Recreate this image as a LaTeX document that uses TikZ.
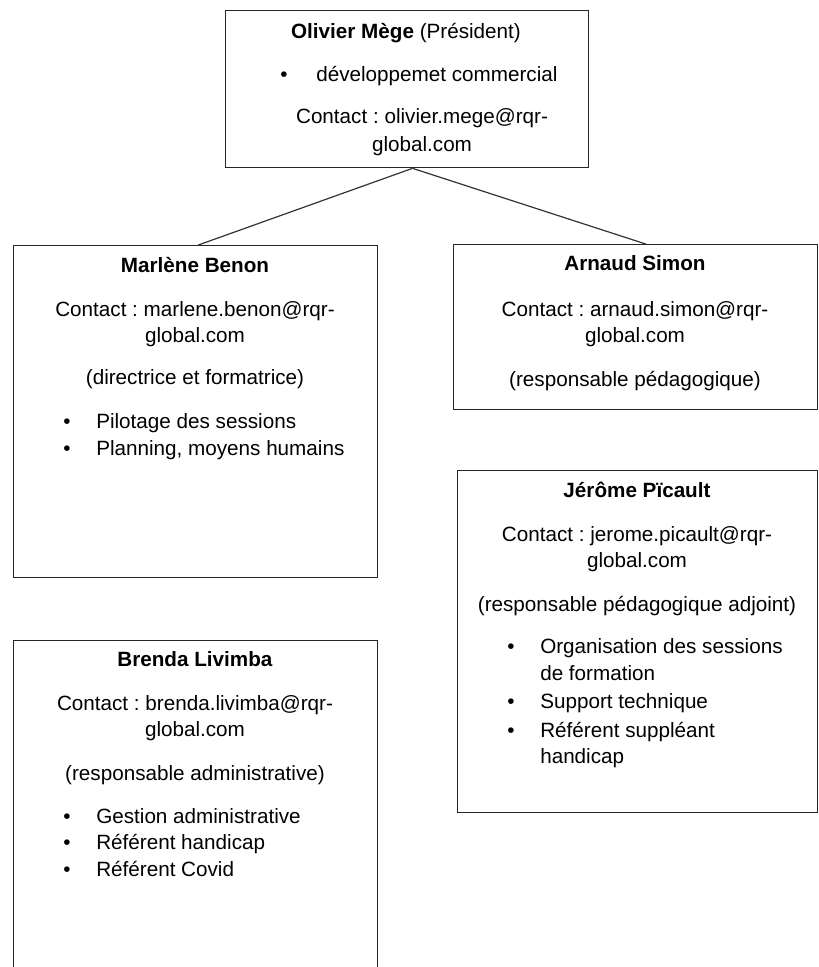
\documentclass[tikz,border=0pt]{standalone}
\usepackage{fontspec}
\setmainfont{Liberation Sans}
\frenchspacing

\tikzset{
    box/.style={draw=black!85, line width=1pt, anchor=north west, inner sep=0pt},
    ln/.style={font=\fontsize{15.5}{20}\selectfont, inner sep=0pt, anchor=base},
    itm/.style={font=\fontsize{15.5}{20}\selectfont, inner sep=0pt, anchor=base west},
    dot/.style={font=\fontsize{15.5}{20}\selectfont, inner sep=0pt, anchor=base},
    link/.style={draw=black!80, line width=0.9pt},
}

\begin{document}
\begin{tikzpicture}[x=0.75pt, y=-0.75pt]
            \clip (0, 0) rectangle (818, 967);

            % boxes
            \node[box, minimum width=0.75*363pt, minimum height=0.75*157pt] (mege) at (225, 10) {};
            \node[box, minimum width=0.75*364pt, minimum height=0.75*332pt] (benon) at (13, 245) {};
            \node[box, minimum width=0.75*364pt, minimum height=0.75*165pt] (simon) at (453, 244) {};
            \node[box, minimum width=0.75*360pt, minimum height=0.75*342pt] (picault) at (457, 470) {};
            \node[box, minimum width=0.75*364pt, minimum height=0.75*345pt] (livimba) at (13, 640) {};

            \draw[link] ([xshift=4pt]mege.south) -- ([xshift=2pt]benon.north);
            \draw[link] ([xshift=4pt]mege.south) -- ([xshift=7.5pt]simon.north);

            % Olivier
            \node[ln] (mege1) at (406, 38) {\textbf{Olivier Mège} (Président)};
            \node[dot] (megeb1) at (284, 81) {•};
            \node[itm] (megei1) at (316, 81) {développemet commercial};
            \node[ln] (mege2) at (422, 123) {Contact : olivier.mege@rqr-};
            \node[ln] (mege3) at (422, 151) {global.com};

            % Marlene
            \node[ln] (benon1) at (195, 272) {\textbf{Marlène Benon}};
            \node[ln] (benon2) at (195, 316) {Contact : marlene.benon@rqr-};
            \node[ln] (benon3) at (195, 342) {global.com};
            \node[ln] (benon4) at (195, 384) {(directrice et formatrice)};
            \node[dot] (benonb1) at (67, 428) {•};
            \node[itm] (benoni1) at (96, 428) {Pilotage des sessions};
            \node[dot] (benonb2) at (67, 455) {•};
            \node[itm] (benoni2) at (96, 455) {Planning, moyens humains};

            % Arnaud
            \node[ln] (simon1) at (635, 270) {\textbf{Arnaud Simon}};
            \node[ln] (simon2) at (635, 316) {Contact : arnaud.simon@rqr-};
            \node[ln] (simon3) at (635, 342) {global.com};
            \node[ln] (simon4) at (635, 386) {(responsable pédagogique)};

            % Jerome
            \node[ln] (picault1) at (637, 497) {\textbf{Jérôme Pïcault}};
            \node[ln] (picault2) at (637, 541) {Contact : jerome.picault@rqr-};
            \node[ln] (picault3) at (637, 567) {global.com};
            \node[ln] (picault4) at (637, 611) {(responsable pédagogique adjoint)};
            \node[dot] (picaultb1) at (511, 653) {•};
            \node[itm] (picaulti1) at (540, 653) {Organisation des sessions};
            \node[itm] (picaulti2) at (540, 680) {de formation};
            \node[dot] (picaultb2) at (511, 708) {•};
            \node[itm] (picaulti3) at (540, 708) {Support technique};
            \node[dot] (picaultb3) at (511, 737) {•};
            \node[itm] (picaulti4) at (540, 737) {Référent suppléant};
            \node[itm] (picaulti5) at (540, 763) {handicap};

            % Brenda
            \node[ln] (livimba1) at (195, 666) {\textbf{Brenda Livimba}};
            \node[ln] (livimba2) at (195, 710) {Contact : brenda.livimba@rqr-};
            \node[ln] (livimba3) at (195, 736) {global.com};
            \node[ln] (livimba4) at (195, 780) {(responsable administrative)};
            \node[dot] (livimbab1) at (67, 823) {•};
            \node[itm] (livimbai1) at (96, 823) {Gestion administrative};
            \node[dot] (livimbab2) at (67, 849) {•};
            \node[itm] (livimbai2) at (96, 849) {Référent handicap};
            \node[dot] (livimbab3) at (67, 876) {•};
            \node[itm] (livimbai3) at (96, 876) {Référent Covid};
        \end{tikzpicture}
\end{document}
